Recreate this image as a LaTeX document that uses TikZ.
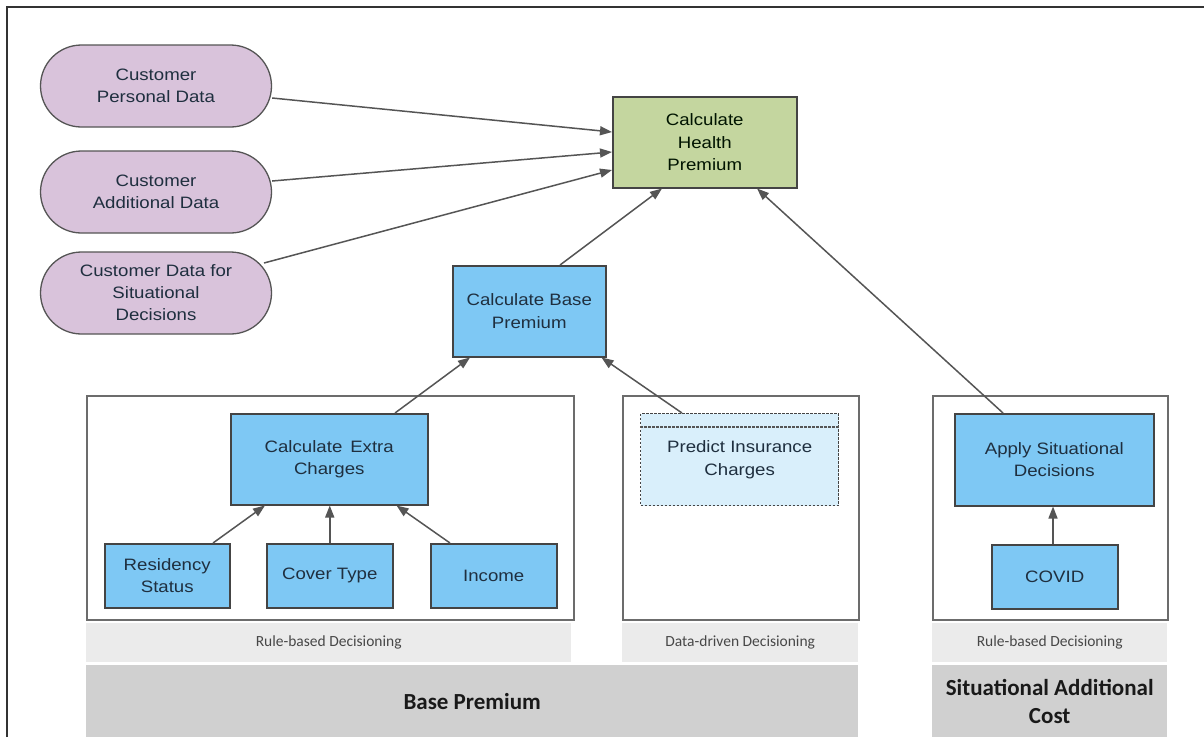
\documentclass[tikz,border=0pt]{standalone}
\usepackage{fontspec}
\setmainfont{Liberation Sans}[FakeStretch=1.13]
\newfontfamily\bandfont{Carlito}
\usetikzlibrary{arrows.meta,shapes.misc}
\definecolor{pgreen}{HTML}{C4D69F}
\definecolor{ppurple}{HTML}{D9C3DB}
\definecolor{pblue}{HTML}{7EC8F4}
\definecolor{plightblue}{HTML}{D9EFFB}
\definecolor{bandlight}{HTML}{EBEBEB}
\definecolor{banddark}{HTML}{D0D0D0}
\definecolor{linegray}{HTML}{555555}
\definecolor{boxtext}{HTML}{1F2F3F}
\tikzset{
  datanode/.style={rounded rectangle, draw=linegray, line width=1.3pt, fill=ppurple,
    minimum width=231pt, minimum height=82pt, align=center, font=\fontsize{16.5}{22}\selectfont, text=boxtext, inner sep=0pt},
  bluebox/.style={rectangle, draw=linegray!80!black, line width=1.5pt, fill=pblue, align=center,
    font=\fontsize{16.5}{22.5}\selectfont, text=boxtext, inner sep=0pt},
  container/.style={rectangle, draw=gray!85!black, line width=1.7pt, fill=white},
  bandA/.style={rectangle, fill=bandlight, inner sep=0pt, font=\bandfont\fontsize{15.5}{18}\selectfont, text=black!72},
  bandB/.style={rectangle, fill=banddark, inner sep=0pt, align=center, font=\bandfont\bfseries\fontsize{23}{28}\selectfont, text=black!90},
  conn/.style={draw=linegray, line width=1.5pt, -{Triangle[length=12pt,width=9pt]}},
}
\begin{document}
\begin{tikzpicture}[x=1pt,y=-1pt]
\useasboundingbox (0,0) rectangle (1204,737);
\fill[white] (0,0) rectangle (1204,737);
% outer frame (left and top edges)
\draw[black!80, line width=1.2pt] (7,737) -- (7,7) -- (1204,7);

% containers
\node[container, minimum width=487pt, minimum height=224pt, anchor=north west] (cL) at (86,395) {};
\node[container, minimum width=236pt, minimum height=224pt, anchor=north west] (cM) at (622,395) {};
\node[container, minimum width=235pt, minimum height=224pt, anchor=north west] (cR) at (932,395) {};

% bands
\node[bandA, minimum width=485pt, minimum height=39pt, anchor=north west] (bL) at (86,623) {Rule-based Decisioning};
\node[bandA, minimum width=236pt, minimum height=39pt, anchor=north west] (bM) at (622,623) {Data-driven Decisioning};
\node[bandA, minimum width=235pt, minimum height=39pt, anchor=north west] (bR) at (932,623) {Rule-based Decisioning};
\node[bandB, minimum width=772pt, minimum height=72pt, anchor=north west] (bBase) at (86,665) {Base Premium};
\node[bandB, minimum width=235pt, minimum height=72pt, anchor=north west] (bSit) at (932,665) {Situational Additional\\Cost};

% data nodes
\node[datanode] (personal) at (156,86) {Customer\\Personal Data};
\node[datanode] (additional) at (156,192) {Customer\\Additional Data};
\node[datanode] (situational) at (156,293) {Customer Data for\\Situational\\Decisions};

% main boxes
\node[bluebox, fill=pgreen, minimum width=184pt, minimum height=91pt, anchor=north west, text=black!80!green!40!black] (health) at (612,96) {Calculate\\Health\\Premium};
\node[bluebox, minimum width=153pt, minimum height=91pt, anchor=north west] (base) at (452,265) {Calculate Base\\Premium};
\node[bluebox, minimum width=197pt, minimum height=91pt, anchor=north west] (extra) at (230,413) {Calculate\, Extra\\Charges};
\node[bluebox, minimum width=125pt, minimum height=64pt, anchor=north west] (resid) at (104,543) {Residency\\Status};
\node[bluebox, minimum width=126pt, minimum height=64pt, anchor=north west] (cover) at (266,543) {Cover Type};
\node[bluebox, minimum width=126pt, minimum height=64pt, anchor=north west] (income) at (430,543) {Income};
\node[bluebox, fill=plightblue, dashed, dash pattern=on 2.5pt off 1.5pt, line width=1.3pt, minimum width=198pt, minimum height=92pt, anchor=north west] (predict) at (640,413) {Predict Insurance\\Charges};
\draw[linegray, line width=1.3pt, dash pattern=on 2.5pt off 1.5pt] ([yshift=-14pt]predict.north west) -- ([yshift=-14pt]predict.north east);
\node[bluebox, minimum width=199pt, minimum height=92pt, anchor=north west] (apply) at (954,413) {Apply Situational\\Decisions};
\node[bluebox, minimum width=126pt, minimum height=64pt, anchor=north west] (covid) at (991,544) {COVID};

% connectors
\coordinate (h1) at (612,132);
\coordinate (h2) at (612,152);
\coordinate (h3) at (612,170);
\draw[conn] (personal.east |- 0,98) -- (h1);
\draw[conn] (additional.east |- 0,181) -- (h2);
\draw[conn] ([shift={(108,-30)}]situational.center) -- (h3);
\draw[conn] ([xshift=108pt]base.north west) -- ([xshift=50pt]health.south west);
\draw[conn] ([xshift=49pt]apply.north west) -- ([xshift=145pt]health.south west);
\draw[conn] ([xshift=165pt]extra.north west) -- ([xshift=18pt]base.south west);
\draw[conn] ([xshift=42pt]predict.north west) -- ([xshift=-5pt]base.south east);
\draw[conn] ([xshift=109pt]resid.north west) -- ([xshift=35pt]extra.south west);
\draw[conn] (cover.north) -- (cover.north |- extra.south);
\draw[conn] ([xshift=20pt]income.north west) -- ([xshift=-32pt]extra.south east);
\draw[conn] ([xshift=62pt]covid.north west) -- ([xshift=62pt]covid.north west |- apply.south);
\end{tikzpicture}
\end{document}
